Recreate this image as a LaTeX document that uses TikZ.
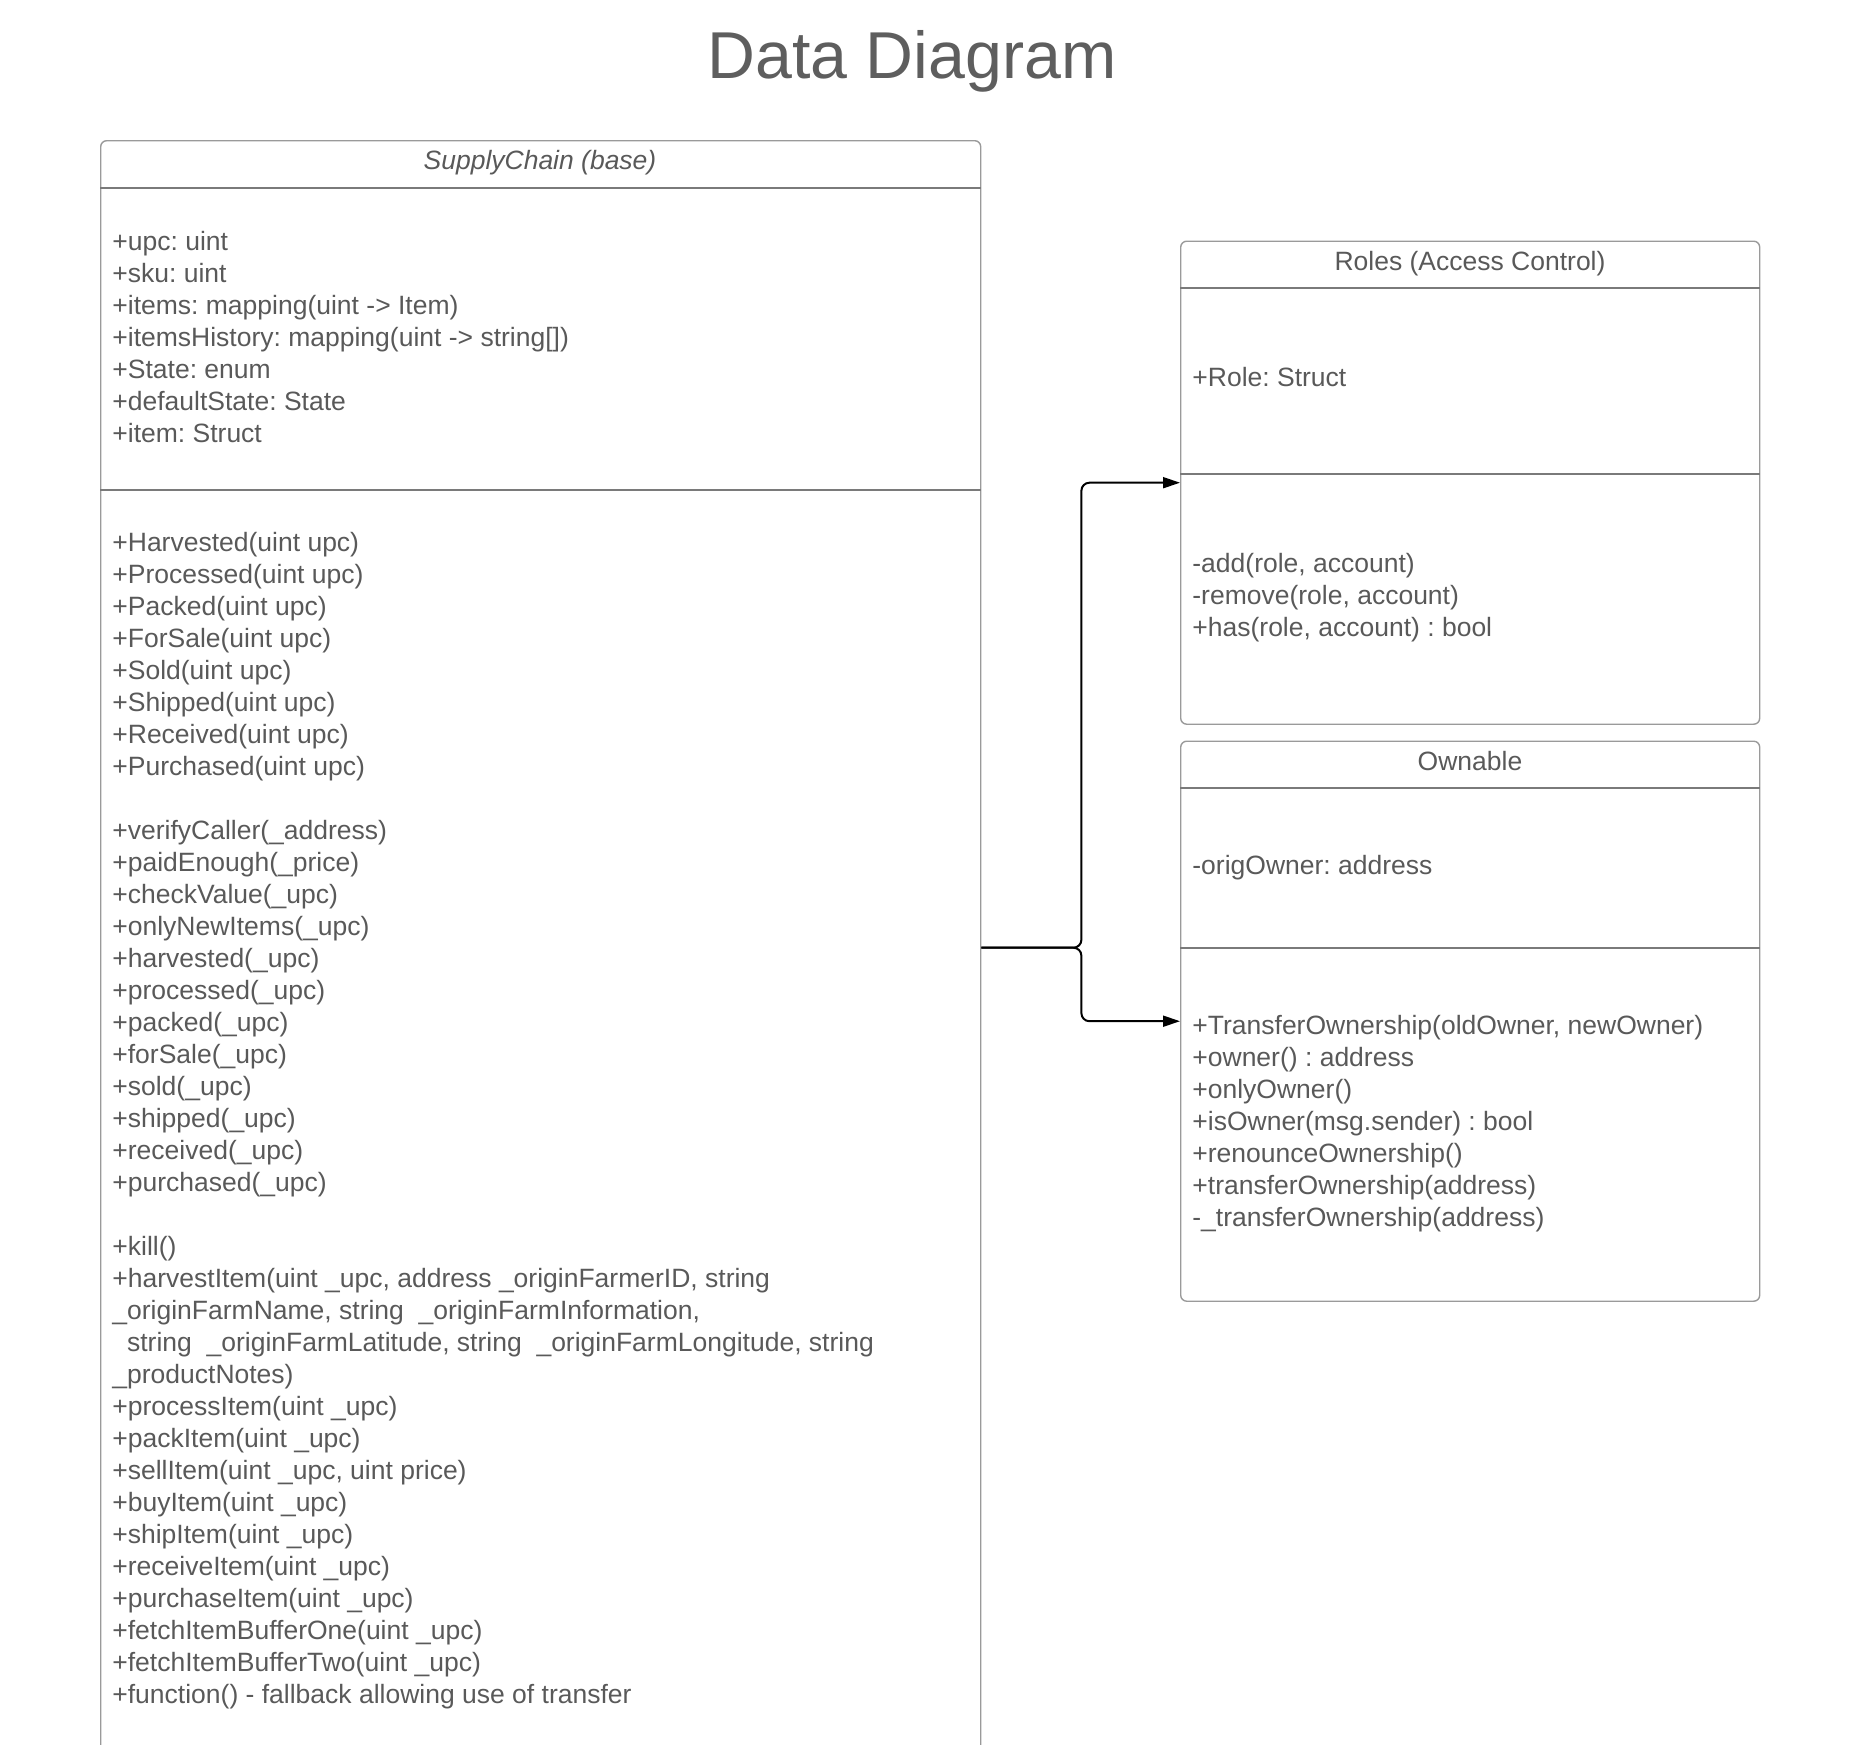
\documentclass[tikz,border=0pt]{standalone}
\usepackage{fontspec}
\setmainfont{Liberation Sans}
\usepackage{tikz}
\usetikzlibrary{arrows.meta,positioning,calc}
\definecolor{textgray}{HTML}{595959}
\definecolor{titlegray}{HTML}{5E5E5E}
\definecolor{boxgray}{HTML}{9A9A9A}
\definecolor{linegray}{HTML}{7A7A7A}
\frenchspacing
\newcommand{\bodysize}{\fontsize{13.25pt}{16pt}\selectfont}
\newcommand{\titlesize}{\fontsize{33.15pt}{40pt}\selectfont}
\tikzset{
  classbox/.style={draw=boxgray, line width=0.7pt, rounded corners=3pt, inner sep=0pt, anchor=north west},
  member/.style={anchor=base west, inner sep=0pt, text=textgray, font=\bodysize},
  classname/.style={anchor=base, inner sep=0pt, text=textgray, font=\bodysize},
  sepline/.style={draw=linegray, line width=0.7pt},
  link/.style={draw=black, line width=1pt, rounded corners=4pt, -{Triangle[length=8.5pt,width=5.5pt]}}
}
\begin{document}
\begin{tikzpicture}[x=0.5pt,y=-0.5pt]
  \path[use as bounding box, clip] (0,0) rectangle (1858,1745);

  \node[anchor=base, inner sep=0pt, text=titlegray, font=\titlesize] (title) at (912,78) {Data Diagram};

  % class boxes
  \node[classbox, minimum width=440pt, minimum height=807pt] (supply) at (100,140) {};
  \node[classbox, minimum width=289.5pt, minimum height=241.5pt] (roles) at (1180,240.5) {};
  \node[classbox, minimum width=289.5pt, minimum height=280pt] (ownable) at (1180,740.5) {};

  \draw[sepline] (supply.west |- 0,188) -- (supply.east |- 0,188);
  \draw[sepline] (supply.west |- 0,490) -- (supply.east |- 0,490);
  \draw[sepline] (roles.west |- 0,288) -- (roles.east |- 0,288);
  \draw[sepline] (roles.west |- 0,474) -- (roles.east |- 0,474);
  \draw[sepline] (ownable.west |- 0,788) -- (ownable.east |- 0,788);
  \draw[sepline] (ownable.west |- 0,948) -- (ownable.east |- 0,948);

  % class names
  \node[classname, font=\bodysize\itshape] (supplyname) at (540,169) {SupplyChain (base)};
  \node[classname] (rolesname) at (1470,270) {Roles (Access Control)};
  \node[classname] (ownablename) at (1470,770) {Ownable};

  % SupplyChain members
  \foreach \txt [count=\i from 0] in {{+upc: uint},{+sku: uint},{+items: mapping(uint -> Item)},
      {+itemsHistory: mapping(uint -> string[])},{+State: enum},{+defaultState: State},{+item: Struct}}
    \node[member] (sa\i) at (112,250+32*\i) {\txt};

  \foreach \txt [count=\i from 0] in {{+Harvested(uint upc)},{+Processed(uint upc)},{+Packed(uint upc)},
      {+ForSale(uint upc)},{+Sold(uint upc)},{+Shipped(uint upc)},{+Received(uint upc)},{+Purchased(uint upc)}}
    \node[member] (se\i) at (112,551+32*\i) {\txt};

  \foreach \txt [count=\i from 0] in {{+verifyCaller(\_address)},{+paidEnough(\_price)},{+checkValue(\_upc)},
      {+onlyNewItems(\_upc)},{+harvested(\_upc)},{+processed(\_upc)},{+packed(\_upc)},{+forSale(\_upc)},
      {+sold(\_upc)},{+shipped(\_upc)},{+received(\_upc)},{+purchased(\_upc)}}
    \node[member] (sm\i) at (112,839+32*\i) {\txt};

  \foreach \txt [count=\i from 0] in {{+kill()},
      {+harvestItem(uint \_upc, address \_originFarmerID, string},
      {\_originFarmName, string\ \ \_originFarmInformation,},
      {\ \ string\ \ \_originFarmLatitude, string\ \ \_originFarmLongitude, string},
      {\_productNotes)},{+processItem(uint \_upc)},{+packItem(uint \_upc)},
      {+sellItem(uint \_upc, uint price)},{+buyItem(uint \_upc)},{+shipItem(uint \_upc)},
      {+receiveItem(uint \_upc)},{+purchaseItem(uint \_upc)},{+fetchItemBufferOne(uint \_upc)},
      {+fetchItemBufferTwo(uint \_upc)},{+function() - fallback allowing use of transfer}}
    \node[member] (sf\i) at (112,1255+32*\i) {\txt};

  % Roles members
  \node[member] (ra0) at (1192,386) {+Role: Struct};
  \foreach \txt [count=\i from 0] in {{-add(role, account)},{-remove(role, account)},{+has(role, account) : bool}}
    \node[member] (rf\i) at (1192,572+32*\i) {\txt};

  % Ownable members
  \node[member] (oa0) at (1192,874) {-origOwner: address};
  \foreach \txt [count=\i from 0] in {{+TransferOwnership(oldOwner, newOwner)},{+owner() : address},
      {+onlyOwner()},{+isOwner(msg.sender) : bool},{+renounceOwnership()},
      {+transferOwnership(address)},{-\_transferOwnership(address)}}
    \node[member] (of\i) at (1192,1034+32*\i) {\txt};

  % inheritance links
  \coordinate (fork) at ([xshift=50pt]supply.east);
  \draw[link] (supply.east) -- (fork) |- (roles.west);
  \draw[link] (supply.east) -- (fork) |- (ownable.west);
\end{tikzpicture}
\end{document}
